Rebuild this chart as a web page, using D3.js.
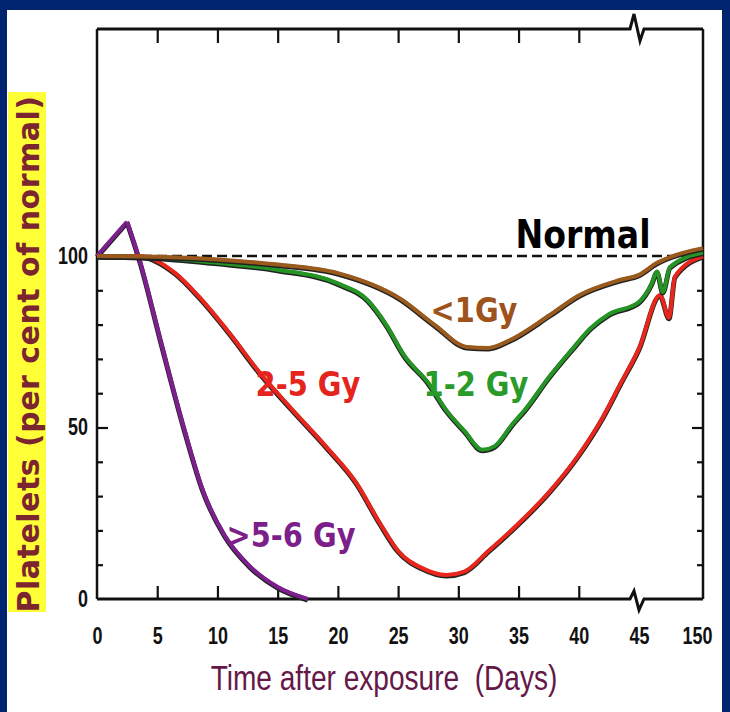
<!DOCTYPE html>
<html>
<head>
<meta charset="utf-8">
<script src="https://cdnjs.cloudflare.com/ajax/libs/d3/7.8.5/d3.min.js"></script>
<style>
  html, body { margin: 0; padding: 0; background: #00246e; }
  svg { display: block; }
</style>
</head>
<body>
<div id="chart"></div>
<script>
// days after exposure (axis is broken between 45 and 150)
var xTicks = [0, 5, 10, 15, 20, 25, 30, 35, 40, 45, 150];
var yTicks = [0, 50, 100];
var yMinor = [10, 20, 30, 40, 50, 60, 70, 80, 90];

// platelets, per cent of normal: [day, value]
var normal = [[0, 100], [150, 100]];
var under1 = [[0, 100], [5, 99.8], [10, 99], [15, 97.5], [20, 95], [25.2, 87.5], [28, 80],
  [30.7, 73.5], [32.5, 73.2], [34.3, 75.5], [37.6, 82.8], [40, 88.5], [43.4, 93], [45, 94.5],
  [74.5, 98], [96, 99.7], [150, 102.3]];
var gy1to2 = [[0, 100], [5, 99.5], [10, 98], [15, 96], [20, 92], [22.5, 87], [24, 80],
  [25.5, 71], [27.5, 63], [29, 55], [30.5, 49], [32, 43.5], [33, 44.5], [34.5, 51], [35.5, 55],
  [37.6, 65], [39.5, 73], [41, 79], [42.5, 83], [45, 86.6], [66, 92], [74.5, 95.5],
  [84, 89.5], [96, 96.8], [150, 101]];
var gy2to5 = [[0, 100], [3.5, 100], [6.5, 95], [8.5, 88], [11, 77.5], [13.5, 66], [16, 56],
  [19, 44.5], [21.5, 34], [23.5, 22], [25, 14], [27, 9], [29, 7], [30.5, 8], [32.5, 14],
  [35, 22], [37.5, 31], [40, 42], [42, 53], [43.5, 63], [45, 73], [79.5, 88.6], [94.2, 82],
  [104, 94], [150, 100]];
var over5 = [[0, 100], [2.5, 110], [3.6, 98], [5.3, 75], [7.2, 50], [8.8, 31.5], [10.6, 18.5],
  [12.7, 9.5], [15, 3.5], [17.5, 0]];

var margin = {top: 29, left: 97},
    width = 606,
    height = 570;

var svg = d3.select('#chart')
    .append('svg')
    .attr('width', 730)
    .attr('height', 712);

// slide background
svg.append('rect')
    .attr('x', 7).attr('y', 10)
    .attr('width', 715).attr('height', 702)
    .style('fill', '#ffffff');

// yellow box behind y title
svg.append('rect')
    .attr('x', 8).attr('y', 92)
    .attr('width', 38).attr('height', 520)
    .style('fill', '#ffff38');

svg.append('text')
    .attr('transform', 'translate(39,354) rotate(-90)')
    .attr('text-anchor', 'middle')
    .style('font-family', 'DejaVu Sans, sans-serif')
    .style('font-weight', 'bold')
    .style('font-size', '30px')
    .style('letter-spacing', '0.5px')
    .style('fill', '#7a2530')
    .text('Platelets (per cent of normal)');

var g = svg.append('g')
    .attr('transform', 'translate(' + margin.left + ',' + margin.top + ')');

// x range, compressed after the break
var x = d3.scaleLinear()
    .domain([0, 45, 150])
    .range([0, 542, width]);

// y range
var y = d3.scaleLinear()
    .domain([0, 100])
    .range([height, 227]);

var bx = x(45) - 3;

// frame with the axis breaks
g.append('path')
    .attr('d', 'M0,0 L' + (bx - 6) + ',0 L' + (bx - 2) + ',-15 L' + (bx + 4) + ',12 L' + (bx + 8) + ',0 L' + width + ',0')
    .style('fill', 'none').style('stroke', '#111').style('stroke-width', 3);
g.append('path')
    .attr('d', 'M0,' + height + ' L' + (bx - 6) + ',' + height + ' L' + (bx - 2) + ',' + (height - 8) +
          ' L' + (bx + 3) + ',' + (height + 11) + ' L' + (bx + 8) + ',' + height + ' L' + width + ',' + height)
    .style('fill', 'none').style('stroke', '#111').style('stroke-width', 3);
g.append('line')
    .attr('x1', 0).attr('x2', 0).attr('y1', 0).attr('y2', height)
    .style('stroke', '#111').style('stroke-width', 2.5);
g.append('line')
    .attr('x1', width).attr('x2', width).attr('y1', 0).attr('y2', height)
    .style('stroke', '#111').style('stroke-width', 2.5);

// top ticks (inward)
var topAxis = g.append('g')
    .call(d3.axisTop(x).tickValues(xTicks.slice(1, 9)).tickSizeInner(-14).tickSizeOuter(0).tickFormat(''));
topAxis.select('.domain').remove();

// bottom axis
var bottomAxis = g.append('g')
    .attr('transform', 'translate(0,' + height + ')')
    .call(d3.axisBottom(x).tickValues(xTicks).tickSizeInner(-13).tickSizeOuter(0));
bottomAxis.select('.domain').remove();
bottomAxis.selectAll('.tick')
    .filter(function (d) { return d === 0 || d === 45 || d === 150; })
    .select('line').remove();
bottomAxis.selectAll('.tick text')
    .attr('y', 0).attr('dy', 0)
    .attr('transform', function (d) { return 'translate(' + (d === 150 ? -6 : 0) + ',45) scale(0.78,1)'; })
    .style('font-family', 'Liberation Sans, sans-serif')
    .style('font-weight', 'bold')
    .style('font-size', '23px')
    .style('fill', '#111');

// left ticks and labels
var leftAxis = g.append('g')
    .call(d3.axisRight(y).tickValues(yMinor).tickSizeOuter(0).tickFormat('')
        .tickSizeInner(6));
leftAxis.select('.domain').remove();
leftAxis.selectAll('.tick line').filter(function (d) { return d === 50; }).attr('x2', 11);

var leftLab = g.append('g')
    .call(d3.axisLeft(y).tickValues(yTicks).tickSize(0).tickPadding(0));
leftLab.select('.domain').remove();
leftLab.selectAll('text')
    .attr('x', 0)
    .attr('transform', 'translate(-9,0) scale(0.78,1)')
    .style('font-family', 'Liberation Sans, sans-serif')
    .style('font-weight', 'bold')
    .style('font-size', '23px')
    .style('fill', '#111');

var rightAxis = g.append('g')
    .attr('transform', 'translate(' + width + ',0)')
    .call(d3.axisLeft(y).tickValues(yMinor).tickSizeOuter(0).tickFormat('').tickSizeInner(6));
rightAxis.select('.domain').remove();
rightAxis.selectAll('.tick line').filter(function (d) { return d === 50; }).attr('x2', -11);

g.selectAll('.tick line').style('stroke', '#111').style('stroke-width', 2.2);

// curves
function makeLine(curve) {
    return d3.line()
        .x(function (d) { return x(d[0]); })
        .y(function (d) { return y(d[1]); })
        .curve(curve);
}

g.append('path')
    .datum(normal)
    .attr('d', makeLine(d3.curveLinear))
    .style('fill', 'none').style('stroke', '#111').style('stroke-width', 2.5)
    .style('stroke-dasharray', '10,5');

// the >5-6 Gy curve has a sharp peak: straight rise, smooth fall
var series = [
    {data: over5.slice(0, 2), color: '#7d1f8e', curve: d3.curveLinear},
    {data: over5.slice(1), color: '#7d1f8e', curve: d3.curveMonotoneX},
    {data: gy2to5, color: '#e8261c', curve: d3.curveMonotoneX},
    {data: gy1to2, color: '#249424', curve: d3.curveMonotoneX},
    {data: under1, color: '#9a5a1e', curve: d3.curveMonotoneX}
];

series.forEach(function (s) {
    var line = makeLine(s.curve);
    g.append('path')
        .datum(s.data)
        .attr('d', line)
        .style('fill', 'none')
        .style('stroke', '#222')
        .style('stroke-width', 5)
        .style('stroke-linejoin', 'round')
        .attr('transform', 'translate(0,1)');
    g.append('path')
        .datum(s.data)
        .attr('d', line)
        .style('fill', 'none')
        .style('stroke', s.color)
        .style('stroke-width', 4)
        .style('stroke-linejoin', 'round');
});

// curve labels
var labels = [
    {text: 'Normal', cx: 583, by: 248, size: 39, color: '#000000'},
    {text: '<1Gy', cx: 474, by: 322, size: 34, color: '#9e531c'},
    {text: '1-2 Gy', cx: 476, by: 396, size: 34, color: '#2a9a2a'},
    {text: '2-5 Gy', cx: 308, by: 396, size: 34, color: '#e5241e'},
    {text: '>5-6 Gy', cx: 291, by: 547, size: 34, color: '#7d1f8a'}
];

svg.selectAll('text.curve-label')
    .data(labels)
    .enter()
    .append('text')
    .attr('class', 'curve-label')
    .attr('transform', function (d) { return 'translate(' + d.cx + ',' + d.by + ') scale(0.85,1)'; })
    .attr('text-anchor', 'middle')
    .style('font-family', 'DejaVu Sans, sans-serif')
    .style('font-weight', 'bold')
    .style('font-size', function (d) { return d.size + 'px'; })
    .style('fill', function (d) { return d.color; })
    .text(function (d) { return d.text; });

// x title
svg.append('text')
    .attr('transform', 'translate(384,690) scale(0.78,1)')
    .attr('text-anchor', 'middle')
    .style('font-family', 'Liberation Sans, sans-serif')
    .style('font-size', '36px')
    .style('white-space', 'pre')
    .style('fill', '#651848')
    .text('Time after exposure  (Days)');
</script>
</body>
</html>
